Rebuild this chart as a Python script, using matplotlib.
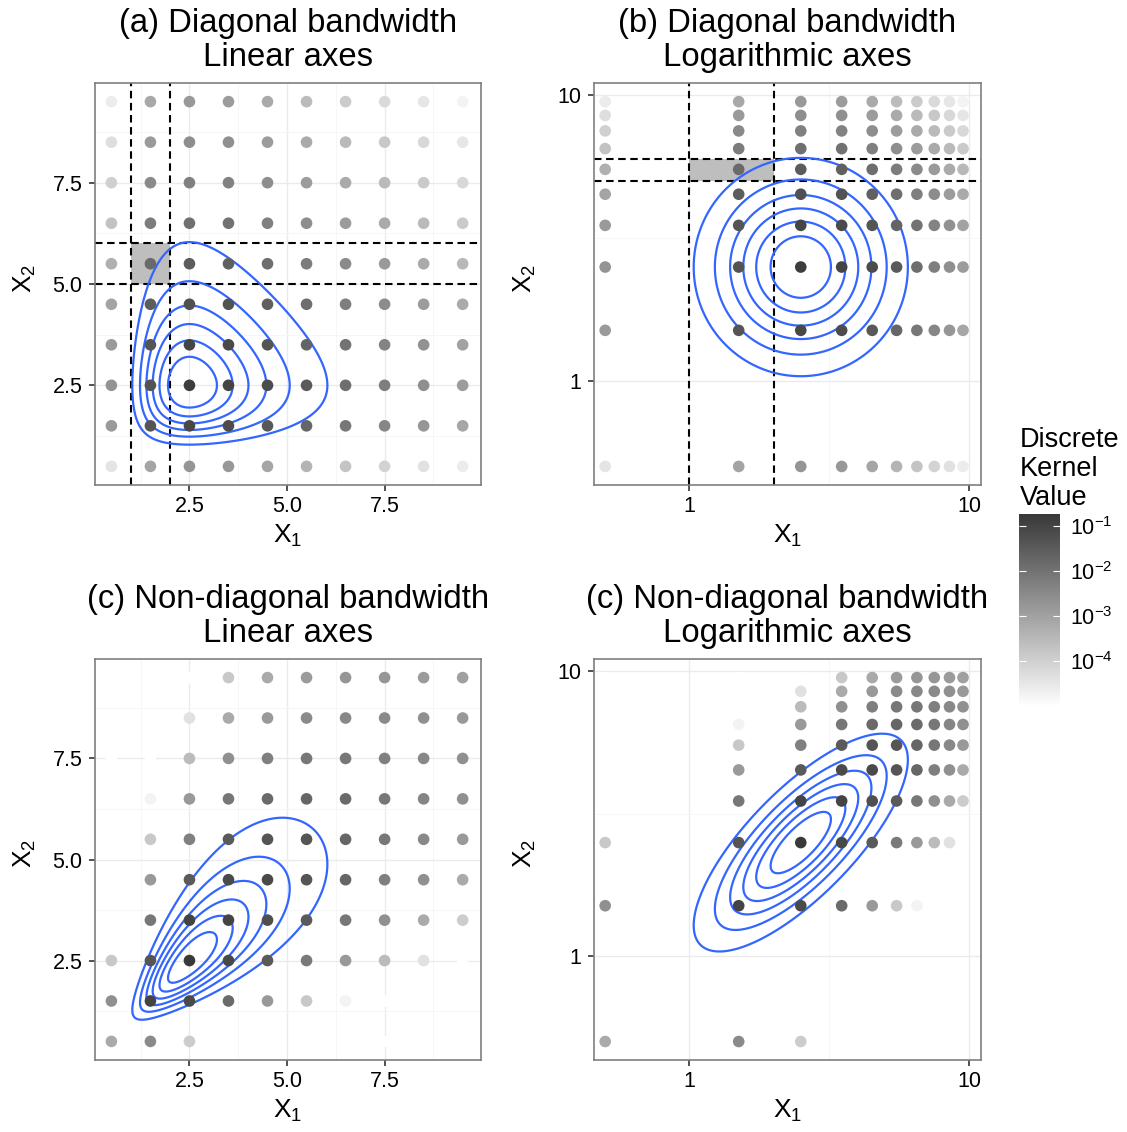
import numpy as np
import matplotlib
matplotlib.use('Agg')
import matplotlib.pyplot as plt
import matplotlib.cm as cm
from matplotlib.colors import LinearSegmentedColormap, LogNorm
from matplotlib.patches import Rectangle
from matplotlib.ticker import FixedLocator, FixedFormatter, NullFormatter

plt.rcParams['font.family'] = ['Liberation Sans', 'DejaVu Sans']
plt.rcParams['mathtext.fontset'] = 'custom'
plt.rcParams['mathtext.rm'] = 'Liberation Sans'
plt.rcParams['mathtext.it'] = 'Liberation Sans:italic'
plt.rcParams['mathtext.bf'] = 'Liberation Sans:bold'
plt.rcParams['mathtext.default'] = 'regular'

W, H = 1127, 1132

# cell midpoints of the discrete grid
grid_x = [0.5, 1.5, 2.5, 3.5, 4.5, 5.5, 6.5, 7.5, 8.5, 9.5]
grid_y = [0.5, 1.5, 2.5, 3.5, 4.5, 5.5, 6.5, 7.5, 8.5, 9.5]

# log10 discrete kernel value, rows = X2 from 0.5 up to 9.5, cols = X1
diag_log10 = [
    [-4.44, -3.06, -2.74, -2.80, -3.08, -3.40, -3.75, -4.05, -4.35, -4.61],
    [-2.84, -1.36, -1.07, -1.16, -1.42, -1.72, -2.09, -2.41, -2.76, -3.10],
    [-2.69, -1.33, -0.85, -0.99, -1.16, -1.46, -1.89, -2.24, -2.61, -2.89],
    [-2.84, -1.36, -1.03, -1.12, -1.36, -1.68, -2.02, -2.35, -2.67, -3.02],
    [-3.06, -1.55, -1.25, -1.33, -1.59, -1.89, -2.24, -2.54, -2.89, -3.19],
    [-3.32, -1.81, -1.51, -1.59, -1.89, -2.20, -2.50, -2.84, -3.19, -3.49],
    [-3.71, -2.20, -1.94, -1.98, -2.28, -2.58, -2.89, -3.19, -3.53, -3.88],
    [-4.01, -2.50, -2.28, -2.33, -2.58, -2.89, -3.19, -3.53, -3.88, -4.18],
    [-4.31, -2.84, -2.58, -2.63, -2.89, -3.19, -3.53, -3.83, -4.18, -4.48],
    [-4.61, -3.14, -2.82, -2.89, -3.19, -3.55, -3.90, -4.20, -4.48, -4.74],
]

nondiag_log10 = [
    [-3.19, -2.50, -3.92, -5.02, -5.02, -5.02, -5.02, -5.02, -5.02, -5.02],
    [-2.63, -0.99, -1.12, -1.81, -2.82, -3.83, -4.74, -5.02, -5.02, -5.02],
    [-3.83, -1.36, -0.75, -1.07, -1.46, -2.15, -2.82, -3.55, -4.35, -5.02],
    [-5.02, -2.09, -0.99, -0.99, -1.23, -1.46, -2.09, -2.63, -3.19, -3.92],
    [-5.02, -2.82, -1.46, -1.12, -1.12, -1.36, -1.72, -2.26, -2.63, -3.19],
    [-5.02, -3.83, -2.28, -1.46, -1.36, -1.36, -1.72, -2.09, -2.45, -2.82],
    [-5.02, -4.74, -2.82, -2.09, -1.81, -1.72, -1.81, -2.09, -2.39, -2.63],
    [-5.02, -5.02, -3.55, -2.63, -2.26, -2.09, -2.09, -2.26, -2.45, -2.63],
    [-5.02, -5.02, -4.35, -3.19, -2.82, -2.50, -2.45, -2.50, -2.63, -2.82],
    [-5.02, -5.02, -5.02, -3.83, -3.19, -2.86, -2.76, -2.76, -2.86, -2.97],
]

value_min_log10 = -5.02
value_max_log10 = -0.73
legend_ticks = [1e-4, 1e-3, 1e-2, 1e-1]
legend_labels = [r'$10^{-4}$', r'$10^{-3}$', r'$10^{-2}$', r'$10^{-1}$']

# continuous kernel used for the contour lines (gaussian in log10 space)
kernel_center = 2.5
kernel_sd_log10 = 0.194
kernel_corr = {'diag': 0.0, 'nondiag': 0.76}
contour_fractions = [0.143, 0.286, 0.429, 0.571, 0.714, 0.857]

# highlighted cell
cell_x = (1, 2)
cell_y = (5, 6)

titles = [
    ('(a) Diagonal bandwidth', 'Linear axes'),
    ('(b) Diagonal bandwidth', 'Logarithmic axes'),
    ('(c) Non-diagonal bandwidth', 'Linear axes'),
    ('(c) Non-diagonal bandwidth', 'Logarithmic axes'),
]

cmap = LinearSegmentedColormap.from_list('kern', ['#ffffff', '#383838'])
norm = LogNorm(vmin=10 ** value_min_log10, vmax=10 ** value_max_log10)
contour_color = '#3366ff'


def frac(l, t, r, b):
    return [l / W, 1 - b / H, (r - l) / W, (b - t) / H]


def style_axes(ax, log_axes):
    if log_axes:
        ax.set_xscale('log')
        ax.set_yscale('log')
        ax.set_xlim(10 ** -0.341, 10 ** 1.042)
        ax.set_ylim(10 ** -0.366, 10 ** 1.043)
        ticks, labels, minor = [1, 10], ['1', '10'], [10 ** 0.5]
    else:
        ax.set_xlim(0.08, 9.97)
        ax.set_ylim(0.04, 9.96)
        ticks, labels = [2.5, 5.0, 7.5], ['2.5', '5.0', '7.5']
        minor = [1.25, 3.75, 6.25, 8.75]
    for axis in (ax.xaxis, ax.yaxis):
        axis.set_major_locator(FixedLocator(ticks))
        axis.set_major_formatter(FixedFormatter(labels))
        axis.set_minor_locator(FixedLocator(minor))
        axis.set_minor_formatter(NullFormatter())
    ax.grid(True, which='major', color='#ebebeb', lw=1.0)
    ax.grid(True, which='minor', color='#f6f6f6', lw=0.7)
    ax.set_axisbelow(True)
    ax.tick_params(which='major', length=4, width=1.1, color='#222222',
                   labelsize=15.5, labelcolor='black')
    ax.tick_params(axis='x', which='major', pad=4)
    ax.tick_params(axis='y', which='major', pad=5)
    ax.tick_params(which='minor', length=0)
    for sp in ax.spines.values():
        sp.set_color('#7f7f7f')
        sp.set_linewidth(1.2)


def draw_panel(ax, kvals, corr, log_axes, highlight):
    style_axes(ax, log_axes)
    gx, gy = np.meshgrid(grid_x, grid_y)
    kv = 10.0 ** np.array(kvals)

    if highlight:
        ax.add_patch(Rectangle((cell_x[0], cell_y[0]), cell_x[1] - cell_x[0],
                               cell_y[1] - cell_y[0], facecolor='#bebebe',
                               edgecolor='none', zorder=1))
        for xv in cell_x:
            ax.axvline(xv, color='black', lw=1.5, ls=(0, (3.6, 2.2)), zorder=2)
        for yv in cell_y:
            ax.axhline(yv, color='black', lw=1.5, ls=(0, (3.6, 2.2)), zorder=2)

    lg = np.linspace(-0.45, 1.15, 600)
    LX, LY = np.meshgrid(lg, lg)
    u = (LX - np.log10(kernel_center)) / kernel_sd_log10
    v = (LY - np.log10(kernel_center)) / kernel_sd_log10
    Z = np.exp(-0.5 * (u ** 2 - 2 * corr * u * v + v ** 2) / (1 - corr ** 2))
    ax.contour(10 ** LX, 10 ** LY, Z, levels=contour_fractions,
               colors=contour_color, linewidths=1.6, zorder=3)

    ax.scatter(gx.ravel(), gy.ravel(), c=kv.ravel(), cmap=cmap, norm=norm,
               s=70, linewidths=0, zorder=4)


fig = plt.figure(figsize=(W / 100, H / 100), dpi=100)
fig.patch.set_facecolor('white')

boxes = [(95, 83, 481, 485), (594, 83, 981, 485),
         (95, 659, 481, 1060), (594, 659, 981, 1060)]
setups = [(diag_log10, kernel_corr['diag'], False, True),
          (diag_log10, kernel_corr['diag'], True, True),
          (nondiag_log10, kernel_corr['nondiag'], False, False),
          (nondiag_log10, kernel_corr['nondiag'], True, False)]

for i, (box, (kvals, corr, log_axes, hl)) in enumerate(zip(boxes, setups)):
    l, t, r, b = box
    ax = fig.add_axes(frac(l, t, r, b))
    draw_panel(ax, kvals, corr, log_axes, hl)
    cx = (l + r) / 2
    fig.text(cx / W, 1 - (t - 51) / H, titles[i][0], ha='center',
             va='baseline', fontsize=23.7)
    fig.text(cx / W, 1 - (t - 17) / H, titles[i][1], ha='center',
             va='baseline', fontsize=23.7)
    fig.text(cx / W, 1 - (b + 58) / H, r'$X_1$', ha='center',
             va='baseline', fontsize=19)
    ylab_x = 25 if l < 300 else 525
    fig.text(ylab_x / W, 1 - ((t + b) / 2 - 6) / H, r'$X_2$', ha='center',
             va='center', rotation=90, fontsize=19)

# legend
for txt, base in [('Discrete', 447), ('Kernel', 476), ('Value', 505)]:
    fig.text(1020 / W, 1 - base / H, txt, ha='left', va='baseline',
             fontsize=19.5)

cax = fig.add_axes(frac(1019, 514, 1060, 707))
sm = cm.ScalarMappable(norm=norm, cmap=cmap)
cb = fig.colorbar(sm, cax=cax)
cb.outline.set_visible(False)
cb.set_ticks(legend_ticks, labels=legend_labels)
cb.ax.minorticks_off()
cax.tick_params(axis='y', which='major', direction='in', left=True,
                right=True, labelleft=False, labelright=True, color='white',
                length=5, width=0.8, labelsize=15.5, pad=7)

fig.savefig('out.png', dpi=100)
